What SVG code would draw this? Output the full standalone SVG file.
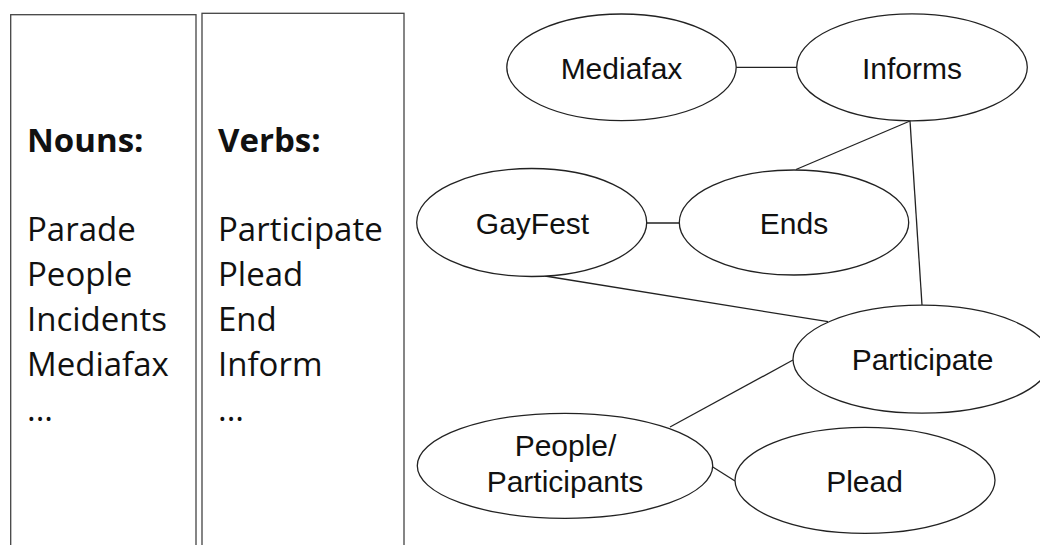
<svg xmlns="http://www.w3.org/2000/svg" width="1040" height="545" viewBox="0 0 1040 545">
  <style>
    .col { fill: #ffffff; stroke: #444444; stroke-width: 1.3; }
    .list { font-family: "Open Sans", "Noto Sans", "Liberation Sans", sans-serif; font-size: 33px; fill: #111111; }
    .head { font-weight: bold; }
    .node ellipse { fill: #ffffff; stroke: #222222; stroke-width: 1.3; }
    .node text { font-family: "Liberation Sans", Arial, sans-serif; font-size: 30px; fill: #111111; text-anchor: middle; }
    .edges line { stroke: #222222; stroke-width: 1.3; }
  </style>
  <rect width="1040" height="545" fill="#ffffff"/>

  <!-- word lists -->
  <g id="nouns">
    <rect class="col" x="10.7" y="14.7" width="185.3" height="560"/>
    <text class="list head" x="27" y="152">Nouns:</text>
    <text class="list" x="27" y="241">Parade</text>
    <text class="list" x="27" y="286">People</text>
    <text class="list" x="27" y="331">Incidents</text>
    <text class="list" x="27" y="376">Mediafax</text>
    <text class="list" x="27" y="421">...</text>
  </g>
  <g id="verbs">
    <rect class="col" x="202" y="13.3" width="202" height="560"/>
    <text class="list head" x="218" y="152">Verbs:</text>
    <text class="list" x="218" y="241">Participate</text>
    <text class="list" x="218" y="286">Plead</text>
    <text class="list" x="218" y="331">End</text>
    <text class="list" x="218" y="376">Inform</text>
    <text class="list" x="218" y="421">...</text>
  </g>

  <!-- connectors -->
  <g id="edges" class="edges">
    <line x1="736" y1="67.3" x2="797" y2="67.3"/>
    <line x1="910" y1="121" x2="796" y2="169.5"/>
    <line x1="910" y1="121" x2="922" y2="305"/>
    <line x1="646.7" y1="223" x2="679.3" y2="223"/>
    <line x1="545" y1="276" x2="828" y2="321.7"/>
    <line x1="793" y1="360" x2="670" y2="427"/>
    <line x1="712" y1="466.5" x2="735" y2="481"/>
  </g>

  <!-- nodes -->
  <g id="mediafax" class="node">
    <ellipse cx="621.5" cy="67.3" rx="114.7" ry="53.3"/>
    <text x="621.5" y="79">Mediafax</text>
  </g>
  <g id="informs" class="node">
    <ellipse cx="912" cy="67.3" rx="115.3" ry="53.5"/>
    <text x="912" y="79">Informs</text>
  </g>
  <g id="gayfest" class="node">
    <ellipse cx="531.7" cy="222.5" rx="115" ry="54"/>
    <text x="532.5" y="233.5">GayFest</text>
  </g>
  <g id="ends" class="node">
    <ellipse cx="794" cy="222.5" rx="114.7" ry="52.5"/>
    <text x="794" y="233.5">Ends</text>
  </g>
  <g id="participate" class="node">
    <ellipse cx="922" cy="359.2" rx="129" ry="54"/>
    <text x="922.5" y="370">Participate</text>
  </g>
  <g id="people" class="node">
    <ellipse cx="565" cy="465.8" rx="147.7" ry="52.5"/>
    <text x="565.5" y="456">People/</text>
    <text x="565" y="491.7">Participants</text>
  </g>
  <g id="plead" class="node">
    <ellipse cx="865" cy="480.3" rx="130" ry="53"/>
    <text x="864.5" y="491.7">Plead</text>
  </g>
</svg>
